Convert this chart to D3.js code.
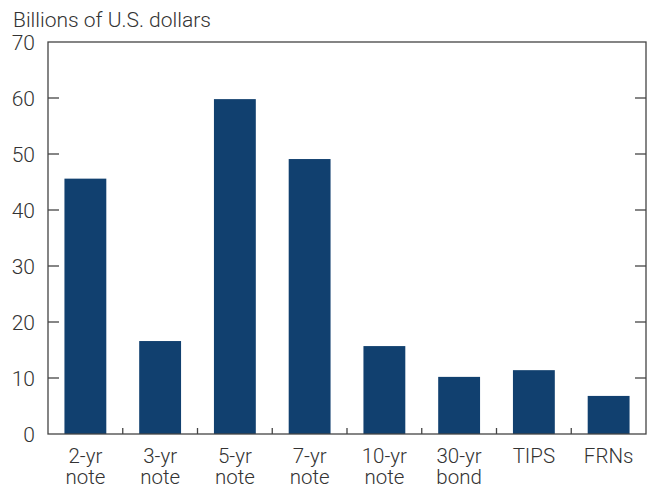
<!DOCTYPE html>
<html><head><meta charset="utf-8">
<script src="https://cdn.jsdelivr.net/npm/d3@7"></script>
<style>body{margin:0;background:#fff}svg{display:block}text{font-family:Roboto,sans-serif;font-weight:300;fill:#333}</style>
</head><body>
<svg id="c" width="652" height="489"></svg>
<script>
const categories = [["2-yr","note"],["3-yr","note"],["5-yr","note"],["7-yr","note"],["10-yr","note"],["30-yr","bond"],["TIPS"],["FRNs"]];
const values = [45.6, 16.6, 59.8, 49.1, 15.7, 10.2, 11.4, 6.8];
const yTicks = [0,10,20,30,40,50,60,70];
const yTitle = "Billions of U.S. dollars";

const svg = d3.select("#c");
const L=48, R=646, T=42, B=434;
const x = d3.scaleBand().domain(d3.range(categories.length)).range([L,R]).paddingInner(0.44).paddingOuter(0.22);
const y = d3.scaleLinear().domain([0,70]).range([B,T]);
const col = "#11406f", axc = "#444";
const fs = 21;

svg.append("g").selectAll("rect").data(values).join("rect")
  .attr("x",(d,i)=>x(i)).attr("width",x.bandwidth())
  .attr("y",d=>y(d)).attr("height",d=>B-y(d)).attr("fill",col);

// frame
svg.append("rect").attr("x",L).attr("y",T).attr("width",R-L).attr("height",B-T)
  .attr("fill","none").attr("stroke",axc).attr("stroke-width",1.3);

// left/right ticks and labels
const yl = svg.append("g");
yTicks.forEach(t=>{
  if(t>0 && t<70){
    yl.append("line").attr("x1",L).attr("x2",L+11).attr("y1",y(t)).attr("y2",y(t)).attr("stroke",axc).attr("stroke-width",1.3);
    yl.append("line").attr("x1",R-11).attr("x2",R).attr("y1",y(t)).attr("y2",y(t)).attr("stroke",axc).attr("stroke-width",1.3);
  }
  yl.append("text").attr("x",35).attr("y",y(t)+7.5).attr("text-anchor","end").attr("font-size",fs).text(t);
});

// bottom ticks at band boundaries
for(let i=1;i<categories.length;i++){
  const bx = L + (R-L)*i/categories.length;
  svg.append("line").attr("x1",bx).attr("x2",bx).attr("y1",B).attr("y2",B-6).attr("stroke",axc).attr("stroke-width",1.3);
}

// category labels (one text element per category, lines as tspans)
categories.forEach((c,i)=>{
  const cx = x(i)+x.bandwidth()/2;
  const t = svg.append("text").attr("text-anchor","middle").attr("font-size",20.5);
  c.forEach((ln,j)=>{
    t.append("tspan").attr("x",cx).attr("y",463+j*21).text(ln);
  });
});

svg.append("text").attr("x",13).attr("y",27).attr("font-size",fs).text(yTitle);
</script>
</body></html>
